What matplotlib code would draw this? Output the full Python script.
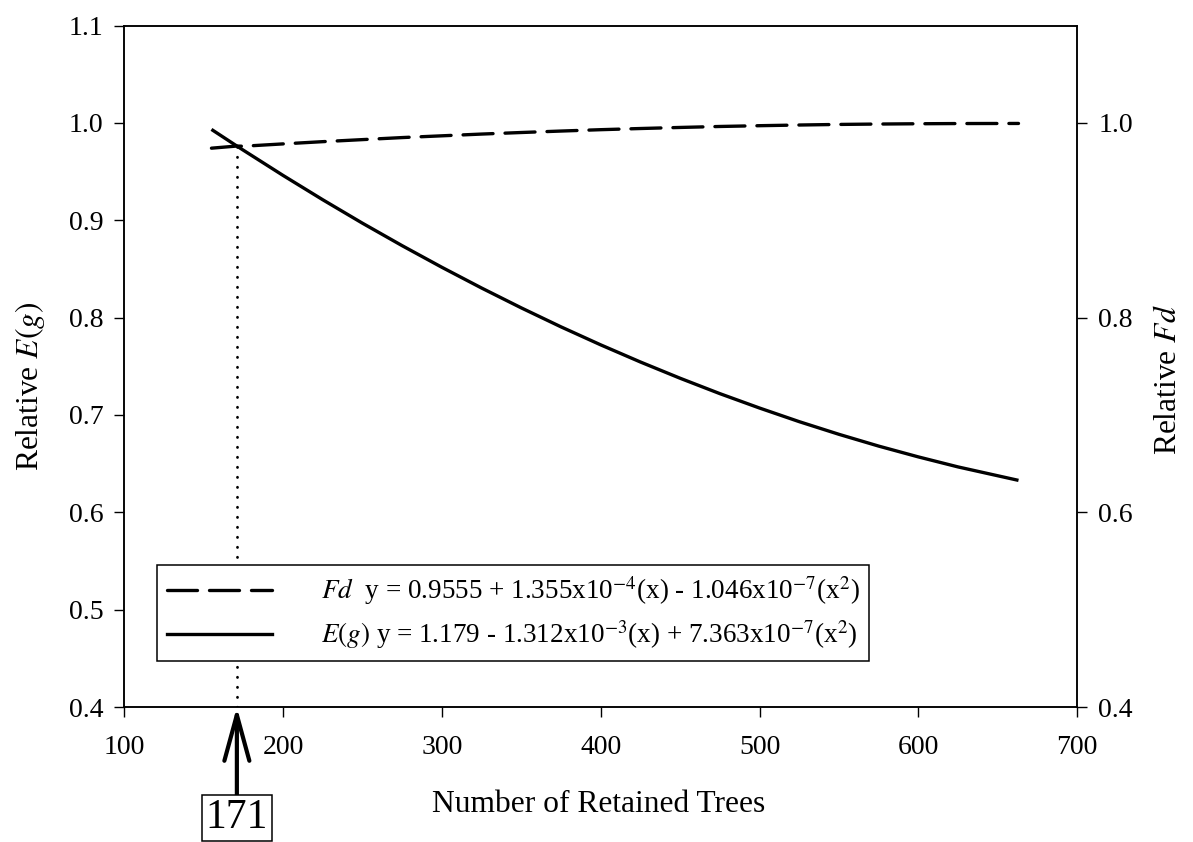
import numpy as np
import matplotlib
matplotlib.use("Agg")
import matplotlib.pyplot as plt
from matplotlib.lines import Line2D

plt.rcParams['font.family'] = ['Liberation Serif', 'DejaVu Serif']
plt.rcParams['mathtext.fontset'] = 'stix'

# values
trees = [155, 171, 175, 200, 225, 250, 275, 300, 325, 350, 375, 400, 425, 450,
         475, 500, 525, 550, 575, 600, 625, 663]
eg = [0.9933, 0.9762, 0.9720, 0.9461, 0.9211, 0.8970, 0.8739, 0.8517, 0.8304, 0.8100,
      0.7905, 0.7720, 0.7544, 0.7377, 0.7219, 0.7071, 0.6931, 0.6801, 0.6680, 0.6569,
      0.6466, 0.6328]
fd = [0.9740, 0.9762, 0.9760, 0.9784, 0.9807, 0.9828, 0.9849, 0.9867, 0.9885, 0.9901,
      0.9916, 0.9930, 0.9942, 0.9953, 0.9963, 0.9971, 0.9978, 0.9984, 0.9988, 0.9991,
      0.9993, 0.9994]

cross_x = 171
cross_y = 0.976

xticks = [100, 200, 300, 400, 500, 600, 700]
yticks_left = [0.4, 0.5, 0.6, 0.7, 0.8, 0.9, 1.0, 1.1]
yticks_right = [0.4, 0.6, 0.8, 1.0]

fd_label = r"$\mathit{Fd}$  y = 0.9555 + 1.355x10$^{-4}$(x) - 1.046x10$^{-7}$(x$^{2}$)"
eg_label = r"$\mathit{E(g)}$ y = 1.179 - 1.312x10$^{-3}$(x) + 7.363x10$^{-7}$(x$^{2}$)"

fig = plt.figure(figsize=(11.93, 8.42), dpi=100)
ax = fig.add_axes([0.104, 0.1603, 0.799, 0.8094])
ax2 = ax.twinx()

eg_line, = ax.plot(trees, eg, color='black', lw=2.4, solid_capstyle='butt')
fd_line, = ax2.plot(trees, fd, color='black', lw=2.4,
                    dashes=(9, 3.6), dash_capstyle='round')

# dotted drop line at the crossing
ax.plot([cross_x, cross_x], [0.4, cross_y], color='black', lw=2.0,
        dashes=(0.1, 3.5), dash_capstyle='round')

ax.set_xlim(100, 700)
ax.set_ylim(0.4, 1.1)
ax2.set_ylim(0.4, 1.1)
ax.set_xticks(xticks)
ax.set_yticks(yticks_left)
ax.set_yticklabels(['%.1f' % v for v in yticks_left])
ax2.set_yticks(yticks_right)
ax2.set_yticklabels(['%.1f' % v for v in yticks_right])

for a in (ax, ax2):
    a.tick_params(direction='out', length=7, width=1, labelsize=20, pad=8)
    for s in a.spines.values():
        s.set_linewidth(1.1)
        s.set_color('black')
ax.tick_params(axis='y', right=False)
ax.tick_params(axis='x', pad=13)

ax.set_xlabel('Number of Retained Trees', fontsize=22.7)
ax.set_ylabel(r'Relative $\mathit{E(g)}$', fontsize=22.7)
ax2.set_ylabel(r'Relative $\mathit{Fd}$', fontsize=22.7)
ax.xaxis.set_label_coords(0.498, -0.122)
ax.yaxis.set_label_coords(-0.081, 0.47)
ax2.yaxis.set_label_coords(1.08, 0.48)

handles = [Line2D([], [], color='black', lw=2.4, dashes=(9, 3.6), dash_capstyle='round'),
           Line2D([], [], color='black', lw=2.4)]
leg = ax2.legend(handles, [fd_label, eg_label], loc='upper left',
                 bbox_to_anchor=(0.0346, 0.2084), fontsize=19.5, frameon=True,
                 fancybox=False, edgecolor='black', framealpha=1,
                 handlelength=3.9, handletextpad=1.8, labelspacing=0.4,
                 borderpad=0.35, borderaxespad=0)
leg.get_frame().set_linewidth(1.1)

# arrow pointing at the crossing value, with boxed value under it
ax.annotate('', xy=(cross_x, 0), xycoords=('data', 'axes fraction'),
            xytext=(0, -66), textcoords='offset points',
            arrowprops=dict(arrowstyle='->, head_length=1.65, head_width=0.45',
                            mutation_scale=20, lw=3, color='black',
                            shrinkA=0, shrinkB=0),
            annotation_clip=False)
ax.annotate(str(cross_x), xy=(cross_x, 0), xycoords=('data', 'axes fraction'),
            xytext=(0, -66), textcoords='offset points', ha='center', va='top',
            fontsize=30,
            bbox=dict(boxstyle='square,pad=0.1', fc='white', ec='black', lw=1.1),
            annotation_clip=False)

fig.savefig('out.png', dpi=100)
